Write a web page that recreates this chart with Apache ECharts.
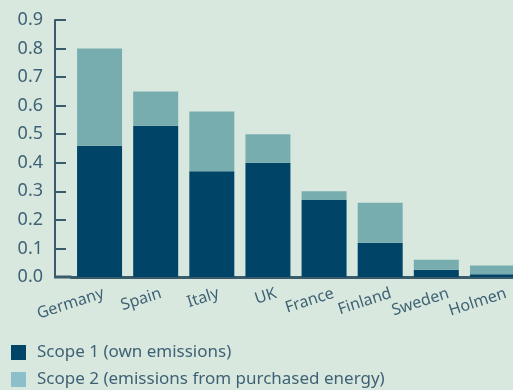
<!DOCTYPE html>
<html>
<head>
<meta charset="utf-8">
<script src="https://cdn.jsdelivr.net/npm/echarts@6/dist/echarts.min.js"></script>
<style>
  html, body { margin: 0; padding: 0; background: #d9e8de; }
  #chart { width: 513px; height: 390px; }
</style>
</head>
<body>
<div id="chart"></div>
<script>
// Emissions intensity by country, split by scope
const countries = ['Germany', 'Spain', 'Italy', 'UK', 'France', 'Finland', 'Sweden', 'Holmen'];
const scope1 = [0.46, 0.53, 0.37, 0.40, 0.27, 0.12, 0.025, 0.01];
const scope2 = [0.34, 0.12, 0.21, 0.10, 0.03, 0.14, 0.035, 0.03];
const yTicks = [0, 0.1, 0.2, 0.3, 0.4, 0.5, 0.6, 0.7, 0.8, 0.9];

const TEXT = '#3e6275';
const AXIS = '#3a5b6c';
const DARK = '#004468';
const LIGHT = '#78adb0';
const FONT = '"Noto Sans", Roboto, sans-serif';

const gridLeft = 71.5, gridWidth = 449, gridTop = 20, gridBottom = 113, axisX = 55;
// country names are spread a little wider than the bars
const labelLeft = 74.75, labelWidth = 460;

const chart = echarts.init(document.getElementById('chart'));
chart.setOption({
  backgroundColor: '#d9e8de',
  animation: false,
  grid: [
    { left: gridLeft, width: gridWidth, top: gridTop, bottom: gridBottom, outerBoundsMode: 'none' },
    { left: labelLeft, width: labelWidth, top: gridTop, bottom: gridBottom, outerBoundsMode: 'none' }
  ],
  legend: {
    orient: 'vertical',
    left: 11, top: 344, padding: 0,
    itemWidth: 15, itemHeight: 15, itemGap: 10,
    icon: 'rect',
    textStyle: { color: TEXT, fontSize: 17, lineHeight: 15, fontFamily: FONT, padding: [0, 0, 0, 6] },
    data: [
      { name: 'Scope 1 (own emissions)', itemStyle: { color: DARK } },
      { name: 'Scope 2 (emissions from purchased energy)', itemStyle: { color: '#8dbfcb' } }
    ]
  },
  xAxis: [
    {
      type: 'category', gridIndex: 0,
      data: countries,
      axisLine: { show: true, lineStyle: { color: AXIS, width: 3 } },
      axisTick: { show: false },
      axisLabel: { show: false }
    },
    {
      // label-only axis carrying the country names
      type: 'category', gridIndex: 1,
      data: countries,
      axisLine: { show: false },
      axisTick: { show: false },
      axisLabel: { rotate: 18, color: TEXT, fontSize: 16, fontFamily: FONT, margin: 16, interval: 0 }
    }
  ],
  yAxis: [
    {
      type: 'value', gridIndex: 0,
      min: 0, max: 0.9, interval: 0.1,
      offset: gridLeft - axisX,
      axisLine: { show: true, lineStyle: { color: AXIS, width: 2 } },
      axisTick: { show: true, inside: true, length: 11, lineStyle: { color: AXIS, width: 2 } },
      splitLine: { show: false },
      axisLabel: {
        color: TEXT, fontSize: 18, fontFamily: FONT, margin: 12,
        formatter: v => yTicks.includes(Math.round(v * 10) / 10) ? v.toFixed(1) : ''
      }
    },
    { type: 'value', gridIndex: 1, min: 0, max: 0.9, show: false }
  ],
  series: [
    {
      name: 'Scope 1 (own emissions)', type: 'bar', stack: 'total',
      data: scope1, barWidth: 45, itemStyle: { color: DARK }
    },
    {
      name: 'Scope 2 (emissions from purchased energy)', type: 'bar', stack: 'total',
      data: scope2, barWidth: 45, itemStyle: { color: LIGHT }
    }
  ],
  graphic: [{
    // joins the offset y axis to the x axis line
    type: 'line',
    shape: { x1: axisX - 1, y1: 390 - gridBottom, x2: gridLeft, y2: 390 - gridBottom },
    style: { stroke: AXIS, lineWidth: 3 }
  }]
});
</script>
</body>
</html>
